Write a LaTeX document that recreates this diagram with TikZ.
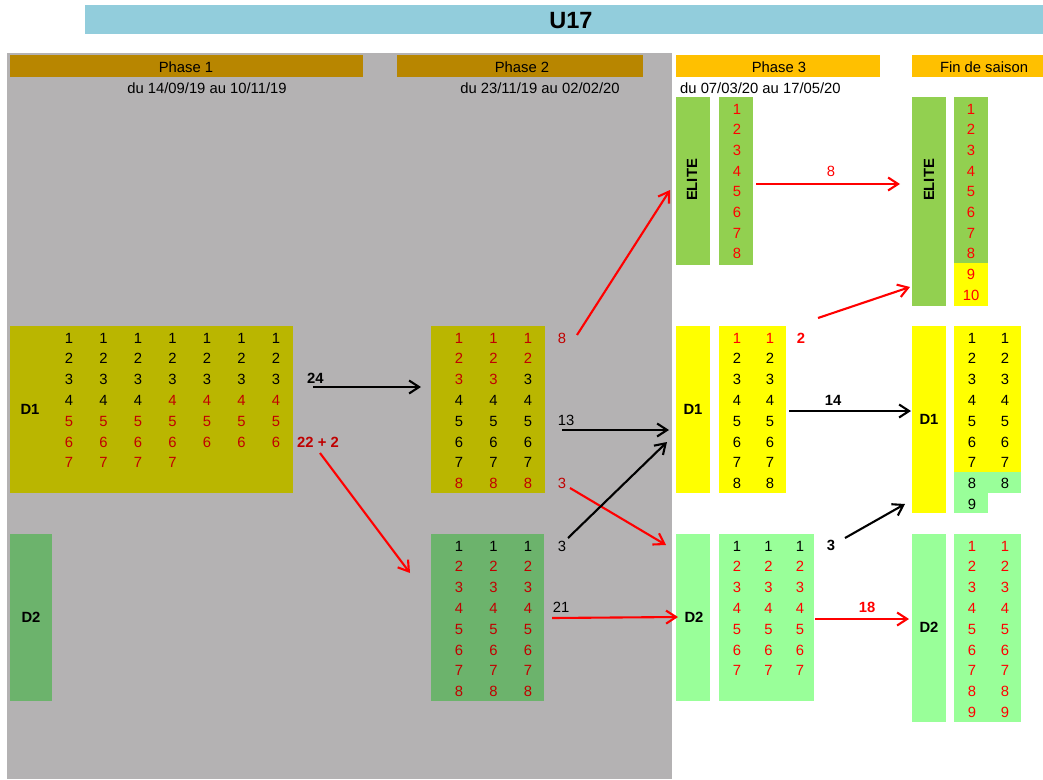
\documentclass[tikz,border=0pt]{standalone}
\usepackage{fontspec}
\setmainfont{Liberation Sans}
\usetikzlibrary{arrows.meta}
\definecolor{titlebg}{HTML}{92CDDC}
\definecolor{graybg}{HTML}{B4B2B3}
\definecolor{phasebar}{HTML}{B88600}
\definecolor{orangebar}{HTML}{FFC000}
\definecolor{olivebox}{HTML}{BAB600}
\definecolor{darkgreenbox}{HTML}{6CB36C}
\definecolor{elitegreen}{HTML}{92D050}
\definecolor{lightgreen}{HTML}{99FF99}
\definecolor{yellowbox}{HTML}{FFFF00}
\definecolor{ck}{HTML}{000000}
\definecolor{cr}{HTML}{C00000}
\definecolor{cR}{HTML}{FF0000}
\begin{document}
\begin{tikzpicture}[x=1pt,y=-1pt,
  box/.style={draw=none,inner sep=0pt,outer sep=0pt,anchor=north west},
  num/.style={inner sep=0pt,font=\fontsize{14.8}{17}\selectfont},
  lbl/.style={inner sep=0pt,font=\fontsize{14.8}{17}\selectfont},
  blbl/.style={inner sep=0pt,font=\fontsize{14.8}{17}\selectfont\bfseries},
  arr/.style={line width=2.1pt,-{Straight Barb[length=10pt,width=13pt]}},
]
\useasboundingbox (0,0) rectangle (1043,779);
% title
\node[box,fill=titlebg,minimum width=958pt,minimum height=29pt] (title) at (85,5) {};
\node[inner sep=0pt,font=\fontsize{23.5}{27}\selectfont\bfseries] (titletxt) at (571,21) {U17};
% gray background
\node[box,fill=graybg,minimum width=665pt,minimum height=726pt] (bg) at (7,53) {};
% phase bars
\node[box,fill=phasebar,minimum width=353pt,minimum height=22pt] (ph1) at (10,55) {};
\node[lbl] (ph1t) at (186,67) {Phase 1};
\node[lbl] (ph1d) at (207,88) {du 14/09/19 au 10/11/19};
\node[box,fill=phasebar,minimum width=246pt,minimum height=22pt] (ph2) at (397,55) {};
\node[lbl] (ph2t) at (522,67) {Phase 2};
\node[lbl] (ph2d) at (540,88) {du 23/11/19 au 02/02/20};
\node[box,fill=orangebar,minimum width=204pt,minimum height=22pt] (ph3) at (676,55) {};
\node[lbl] (ph3t) at (779,67) {Phase 3};
\node[lbl,anchor=west] (ph3d) at (680,88) {du 07/03/20 au 17/05/20};
\node[box,fill=orangebar,minimum width=131pt,minimum height=22pt] (fin) at (912,55) {};
\node[lbl] (fint) at (984,67) {Fin de saison};

% ---------- Phase 1 ----------
\node[box,fill=olivebox,minimum width=283pt,minimum height=167pt] (p1d1) at (10,326) {};
\node[blbl] (p1d1t) at (30,409) {D1};
\foreach \r/\row in {1/{ck,ck,ck,ck,ck,ck,ck},2/{ck,ck,ck,ck,ck,ck,ck},3/{ck,ck,ck,ck,ck,ck,ck},4/{ck,ck,ck,cr,cr,cr,cr},5/{cr,cr,cr,cr,cr,cr,cr},6/{cr,cr,cr,cr,cr,cr,cr},7/{cr,cr,cr,cr}}
  \foreach \cc [count=\c] in \row
    \node[num,text=\cc] (pa-\r-\c) at ({69+34.5*(\c-1)},{338+20.8*(\r-1)}) {\r};
\node[box,fill=darkgreenbox,minimum width=42pt,minimum height=167pt] (p1d2) at (10,534) {};
\node[blbl] (p1d2t) at (31,617) {D2};

% ---------- Phase 2 ----------
\node[box,fill=olivebox,minimum width=114pt,minimum height=167pt] (p2d1) at (431,326) {};
\foreach \r/\row in {1/{cr,cr,cr},2/{cr,cr,cr},3/{cr,cr,ck},4/{ck,ck,ck},5/{ck,ck,ck},6/{ck,ck,ck},7/{ck,ck,ck},8/{cr,cr,cr}}
  \foreach \cc [count=\c] in \row
    \node[num,text=\cc] (pb-\r-\c) at ({459+34.5*(\c-1)},{338+20.8*(\r-1)}) {\r};
\node[box,fill=darkgreenbox,minimum width=113pt,minimum height=167pt] (p2d2) at (431,534) {};
\foreach \r/\row in {1/{ck,ck,ck},2/{cr,cr,cr},3/{cr,cr,cr},4/{cr,cr,cr},5/{cr,cr,cr},6/{cr,cr,cr},7/{cr,cr,cr},8/{cr,cr,cr}}
  \foreach \cc [count=\c] in \row
    \node[num,text=\cc] (pc-\r-\c) at ({459+34.5*(\c-1)},{546+20.8*(\r-1)}) {\r};

% ---------- Phase 3 ----------
\node[box,fill=elitegreen,minimum width=34pt,minimum height=168pt] (p3el) at (676,97) {};
\node[blbl,rotate=90] (p3elt) at (692,180) {ELITE};
\node[box,fill=elitegreen,minimum width=34pt,minimum height=168pt] (p3ell) at (719,97) {};
\foreach \r in {1,...,8}
  \node[num,text=cR] (pd-\r) at (737,{109+20.7*(\r-1)}) {\r};

\node[box,fill=yellowbox,minimum width=34pt,minimum height=167pt] (p3d1) at (676,326) {};
\node[blbl] (p3d1t) at (693,409) {D1};
\node[box,fill=yellowbox,minimum width=67pt,minimum height=167pt] (p3d1l) at (719,326) {};
\foreach \r/\row in {1/{cR,cR},2/{ck,ck},3/{ck,ck},4/{ck,ck},5/{ck,ck},6/{ck,ck},7/{ck,ck},8/{ck,ck}}
  \foreach \cc [count=\c] in \row
    \node[num,text=\cc] (pe-\r-\c) at ({737+33*(\c-1)},{338+20.8*(\r-1)}) {\r};

\node[box,fill=lightgreen,minimum width=34pt,minimum height=167pt] (p3d2) at (676,534) {};
\node[blbl] (p3d2t) at (694,617) {D2};
\node[box,fill=lightgreen,minimum width=95pt,minimum height=167pt] (p3d2l) at (719,534) {};
\foreach \r/\row in {1/{ck,ck,ck},2/{cR,cR,cR},3/{cR,cR,cR},4/{cR,cR,cR},5/{cR,cR,cR},6/{cR,cR,cR},7/{cR,cR,cR}}
  \foreach \cc [count=\c] in \row
    \node[num,text=\cc] (pf-\r-\c) at ({737+31.5*(\c-1)},{546+20.8*(\r-1)}) {\r};

% ---------- Fin de saison ----------
\node[box,fill=elitegreen,minimum width=34pt,minimum height=209pt] (fel) at (912,97) {};
\node[blbl,rotate=90] (felt) at (929,180) {ELITE};
\node[box,fill=elitegreen,minimum width=34pt,minimum height=166pt] (fell) at (954,97) {};
\node[box,fill=yellowbox,minimum width=34pt,minimum height=43pt] (fely) at (954,263) {};
\foreach \r in {1,...,10}
  \node[num,text=cR] (pg-\r) at (971,{109+20.7*(\r-1)}) {\r};

\node[box,fill=yellowbox,minimum width=34pt,minimum height=187pt] (fd1) at (912,326) {};
\node[blbl] (fd1t) at (929,419) {D1};
\node[box,fill=yellowbox,minimum width=67pt,minimum height=146pt] (fd1l) at (954,326) {};
\node[box,fill=lightgreen,minimum width=67pt,minimum height=21pt] (fd1g) at (954,472) {};
\node[box,fill=lightgreen,minimum width=34pt,minimum height=20pt] (fd1h) at (954,493) {};
\foreach \r/\row in {1/{ck,ck},2/{ck,ck},3/{ck,ck},4/{ck,ck},5/{ck,ck},6/{ck,ck},7/{ck,ck},8/{ck,ck},9/{ck}}
  \foreach \cc [count=\c] in \row
    \node[num,text=\cc] (ph-\r-\c) at ({972+33*(\c-1)},{338+20.8*(\r-1)}) {\r};

\node[box,fill=lightgreen,minimum width=34pt,minimum height=188pt] (fd2) at (912,534) {};
\node[blbl] (fd2t) at (929,627) {D2};
\node[box,fill=lightgreen,minimum width=67pt,minimum height=188pt] (fd2l) at (954,534) {};
\foreach \r in {1,...,9}
  \foreach \c in {1,2}
    \node[num,text=cR] (pi-\r-\c) at ({972+33*(\c-1)},{546+20.8*(\r-1)}) {\r};

% ---------- arrow labels ----------
\node[blbl,anchor=west] (l24) at (307,378) {24};
\node[blbl,text=cr] (l22) at (318,442) {22 + 2};
\node[lbl,text=cr] (l8a) at (562,338) {8};
\node[lbl] (l13) at (566,420) {13};
\node[lbl,text=cr] (l3a) at (562,483) {3};
\node[lbl] (l3b) at (562,546) {3};
\node[lbl] (l21) at (561,607) {21};
\node[lbl,text=cR] (l8b) at (831,171) {8};
\node[blbl,text=cR] (l2) at (801,338) {2};
\node[blbl] (l14) at (833,400) {14};
\node[blbl] (l3c) at (831,545) {3};
\node[blbl,text=cR] (l18) at (867,607) {18};

% ---------- arrow end points ----------
\coordinate (s24) at (313,387);  \coordinate (e24) at (421,387);
\coordinate (s22) at (320,453);  \coordinate (e22) at (410,573);
\coordinate (s8a) at (577,335);  \coordinate (e8a) at (670,190);
\coordinate (s13) at (562,430);  \coordinate (e13) at (669,430);
\coordinate (s3a) at (570,488);  \coordinate (e3a) at (666,545);
\coordinate (s3b) at (568,538);  \coordinate (e3b) at (667,442);
\coordinate (s21) at (552,618);  \coordinate (e21) at (678,617);
\coordinate (s8b) at (756,184);  \coordinate (e8b) at (900,184);
\coordinate (s2) at (818,318);   \coordinate (e2) at (910,287);
\coordinate (s14) at (789,411);  \coordinate (e14) at (911,411);
\coordinate (s3c) at (845,538);  \coordinate (e3c) at (905,504);
\coordinate (s18) at (815,619);  \coordinate (e18) at (909,619);

\draw[arr,black] (s24) -- (e24);
\draw[arr,cR] (s22) -- (e22);
\draw[arr,cR] (s8a) -- (e8a);
\draw[arr,black] (s13) -- (e13);
\draw[arr,cR] (s3a) -- (e3a);
\draw[arr,black] (s3b) -- (e3b);
\draw[arr,cR] (s21) -- (e21);
\draw[arr,cR] (s8b) -- (e8b);
\draw[arr,cR] (s2) -- (e2);
\draw[arr,black] (s14) -- (e14);
\draw[arr,black] (s3c) -- (e3c);
\draw[arr,cR] (s18) -- (e18);
\end{tikzpicture}
\end{document}
